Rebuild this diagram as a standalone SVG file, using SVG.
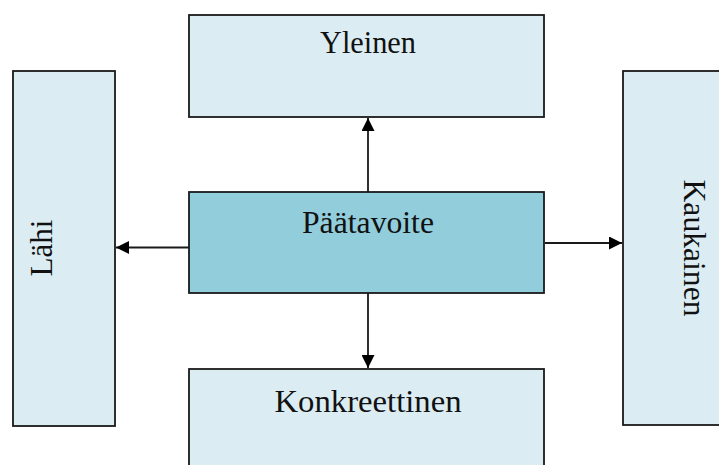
<svg xmlns="http://www.w3.org/2000/svg" width="719" height="465" viewBox="0 0 719 465">
  <style>
    .box { fill: #dbedf3; stroke: #1a1a1a; stroke-width: 1.8; }
    .main { fill: #92cddc; stroke: #1a1a1a; stroke-width: 1.8; }
    .label { font-family: "Liberation Serif", "Times New Roman", serif; font-size: 31px; fill: #111; text-anchor: middle; }
    .link { stroke: #1a1a1a; stroke-width: 1.8; fill: none; marker-end: url(#arrow); }
  </style>
  <defs>
    <marker id="arrow" viewBox="0 0 10 10" refX="10" refY="5" markerUnits="userSpaceOnUse" markerWidth="14" markerHeight="13" orient="auto">
      <path d="M0,0 L10,5 L0,10 Z" fill="#000"/>
    </marker>
  </defs>

  <rect width="719" height="465" fill="#fff"/>

  <g id="connectors">
    <line class="link" x1="368" y1="192" x2="368" y2="118"/>
    <line class="link" x1="368" y1="293" x2="368" y2="368"/>
    <line class="link" x1="189" y1="247.5" x2="116" y2="247.5"/>
    <line class="link" x1="545" y1="243" x2="622" y2="243"/>
  </g>

  <g id="yleinen">
    <rect class="box" x="189" y="15" width="355" height="102"/>
    <text class="label" x="368" y="53" textLength="96" lengthAdjust="spacingAndGlyphs">Yleinen</text>
  </g>

  <g id="paatavoite">
    <rect class="main" x="189" y="192" width="355" height="101"/>
    <text class="label" x="368" y="233" textLength="132" lengthAdjust="spacingAndGlyphs">Päätavoite</text>
  </g>

  <g id="konkreettinen">
    <rect class="box" x="189" y="369" width="355" height="110"/>
    <text class="label" x="368" y="412" textLength="187" lengthAdjust="spacingAndGlyphs">Konkreettinen</text>
  </g>

  <g id="lahi">
    <rect class="box" x="13" y="71" width="102" height="355"/>
    <text class="label" transform="translate(52,248) rotate(-90)" x="0" y="0" textLength="57" lengthAdjust="spacingAndGlyphs">Lähi</text>
  </g>

  <g id="kaukainen">
    <rect class="box" x="623" y="71" width="110" height="354"/>
    <text class="label" transform="translate(684,248) rotate(90)" x="0" y="0" textLength="137" lengthAdjust="spacingAndGlyphs">Kaukainen</text>
  </g>
</svg>
